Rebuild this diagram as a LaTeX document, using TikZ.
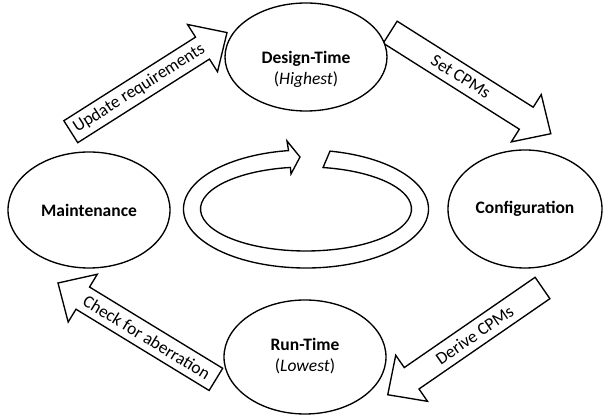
\documentclass[tikz,border=0pt]{standalone}
\usepackage{fontspec}
\setmainfont{Carlito}
\usetikzlibrary{shapes.geometric,calc}

\tikzset{
  outline/.style={draw=black, line width=1.35pt, line join=miter},
  stage/.style={outline, ellipse, fill=white, inner sep=0pt},
  caption/.style={font=\fontsize{17.5}{21}\selectfont, inner sep=0pt, align=center},
  stagetext/.style={font=\fontsize{17.5}{21}\selectfont\bfseries},
}

% block arrow: name, tail x, tail y, direction, length, text angle, text
\newcommand\blockarrow[7]{%
  \begin{scope}[shift={(#2,#3)}, rotate=#4]
    \draw[outline, fill=white] (0,-13) -- ({#5-29},-13) -- ({#5-29},-28) -- (#5,0)
      -- ({#5-29},28) -- ({#5-29},13) -- (0,13) -- cycle;
  \end{scope}
  \path (#2,#3) ++(#4:{(#5-29)/2+3}) node[caption, rotate=#6] (#1) {#7};
}

\begin{document}
\begin{tikzpicture}[x=1pt, y=1pt]
  \useasboundingbox (0,0) rectangle (606,417);

  % transitions between the stages
  \blockarrow{update}{70.8}{285.3}{32.4}{185}{32.4}{Update requirements}
  \blockarrow{setcpm}{390.2}{384.8}{-32.3}{190}{-32.3}{Set CPMs}
  \blockarrow{derive}{542.5}{129}{214.6}{188}{34.6}{Derive CPMs}
  \blockarrow{check}{215.9}{37.6}{148.6}{185}{-31.4}{Check for aberration}

  % stages
  \node[stage, minimum width=162pt, minimum height=108pt] (design) at (306,360) {};
  \node[caption] (designtxt) at (306,348) {\textbf{Design-Time}\\(\textit{Highest})};
  \node[stage, stagetext, minimum width=162pt, minimum height=116pt] (maint) at (89,207) {Maintenance};
  \node[stage, stagetext, minimum width=154pt, minimum height=118pt] (config) at (525,208) {Configuration};
  \node[stage, minimum width=162pt, minimum height=114pt] (run) at (305,60) {};
  \node[caption] (runtxt) at (305,61) {\textbf{Run-Time}\\(\textit{Lowest})};

  % circular arrow in the middle
  \coordinate (ring) at (306,208);
  \draw[outline, fill=white]
    ($(ring)+(78.7:122.5 and 59)$)
      arc[start angle=78.7, end angle=-261.8, x radius=122.5, y radius=59]
    -- (287,276) -- (300,260) -- (291,243)
    -- ($(ring)+(98.5:105.5 and 42)$)
      arc[start angle=-261.5, end angle=80.7, x radius=105.5, y radius=42]
    -- cycle;
\end{tikzpicture}
\end{document}
